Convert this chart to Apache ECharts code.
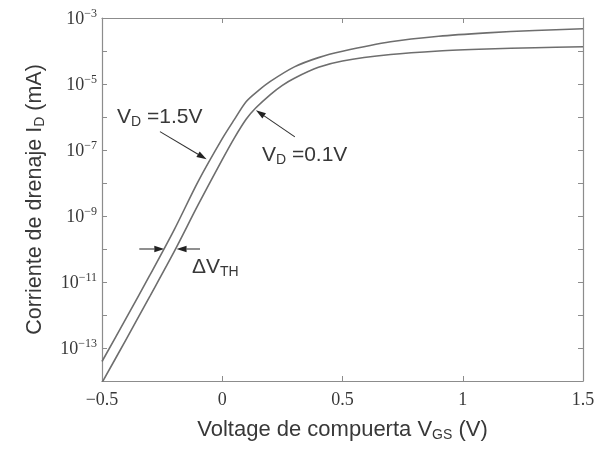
<!DOCTYPE html>
<html>
<head>
<meta charset="utf-8">
<script src="https://cdn.jsdelivr.net/npm/echarts@6/dist/echarts.min.js"></script>
<style>
html, body { margin: 0; padding: 0; background: #fff; }
#chart { width: 598px; height: 452px; }
</style>
</head>
<body>
<div id="chart"></div>
<script>
// Drain current I_D (mA) versus gate voltage V_GS (V) for two drain voltages
const vgsHigh = [-0.5, -0.4, -0.3, -0.2, -0.1, 0, 0.05, 0.1, 0.15, 0.2, 0.3, 0.4, 0.5, 0.7, 0.9, 1.1, 1.3, 1.5];
const idHigh  = [3.9e-14, 7.9e-13, 1.66e-11, 3.8e-10, 1.12e-8, 2.2e-7, 8.3e-7, 2.95e-6, 6.3e-6, 1.2e-5, 3.3e-5, 6.3e-5, 9.8e-5, 1.9e-4, 2.8e-4, 3.55e-4, 4.2e-4, 4.7e-4];

const vgsLow = [-0.5, -0.4, -0.3, -0.2, -0.1, 0, 0.05, 0.1, 0.14, 0.2, 0.25, 0.3, 0.4, 0.5, 0.7, 0.9, 1.1, 1.3, 1.5];
const idLow  = [8.9e-15, 1.8e-13, 3.8e-12, 8.3e-11, 2.2e-9, 5.1e-8, 2.3e-7, 8.7e-7, 1.9e-6, 4.8e-6, 9.1e-6, 1.5e-5, 3.2e-5, 5.0e-5, 7.8e-5, 1.0e-4, 1.15e-4, 1.26e-4, 1.35e-4];

// Axis ranges and labelled decades
const xRange = [-0.5, 1.5];
const xStep = 0.5;
const yRange = [1e-14, 1e-3];
const yLabelExponents = [-3, -5, -7, -9, -11, -13];

const SANS = 'Liberation Sans, Arial, sans-serif';
const SERIF = 'Liberation Serif, DejaVu Serif, serif';
const AXIS_COLOR = '#8c8c8c';
const TEXT_COLOR = '#383838';
const CURVE_COLOR = '#6e6e6e';

const pair = (xs, ys) => xs.map((x, i) => [x, ys[i]]);

function xLabel(v) {
  const r = Math.round(v * 10) / 10;
  return r < 0 ? '\u2212' + Math.abs(r) : String(r);
}
function yLabel(v) {
  const e = Math.round(Math.log10(v));
  if (!yLabelExponents.includes(e)) return '';
  return '{b|10}{s|' + (e < 0 ? '\u2212' : '') + Math.abs(e) + '}';
}

const chart = echarts.init(document.getElementById('chart'), null, { renderer: 'canvas' });

const boxAxis = {
  axisLine: { show: true, onZero: false, lineStyle: { color: AXIS_COLOR, width: 1.2 } },
  axisTick: { show: true, inside: true, length: 5, lineStyle: { color: AXIS_COLOR, width: 1 } },
  splitLine: { show: false },
  minorTick: { show: false }
};

const titleStyle = size => ({
  fontFamily: SANS, fontSize: size, color: TEXT_COLOR, lineHeight: 24,
  rich: { sub: { fontFamily: SANS, fontSize: 14, color: TEXT_COLOR, verticalAlign: 'bottom', lineHeight: 14 } }
});

chart.setOption({
  animation: false,
  backgroundColor: '#fff',
  grid: { left: 102, right: 15, top: 18, bottom: 71 },
  xAxis: [
    Object.assign({
      type: 'value', position: 'bottom', min: xRange[0], max: xRange[1], interval: xStep,
      axisLabel: { margin: 10, fontFamily: SERIF, fontSize: 18, color: TEXT_COLOR, formatter: xLabel },
      name: 'Voltage de compuerta V{sub|GS} (V)',
      nameLocation: 'middle', nameGap: 37,
      nameTextStyle: titleStyle(22)
    }, boxAxis),
    Object.assign({
      type: 'value', position: 'top', min: xRange[0], max: xRange[1], interval: xStep,
      axisLabel: { show: false }
    }, boxAxis)
  ],
  yAxis: [
    Object.assign({
      type: 'log', logBase: 10, position: 'left', min: yRange[0], max: yRange[1], interval: 1,
      axisLabel: {
        margin: 5, color: TEXT_COLOR, formatter: yLabel,
        rich: {
          b: { fontFamily: SERIF, fontSize: 18, color: TEXT_COLOR, lineHeight: 20, verticalAlign: 'bottom' },
          s: { fontFamily: SERIF, fontSize: 12, color: TEXT_COLOR, verticalAlign: 'top', lineHeight: 12 }
        }
      },
      name: 'Corriente de drenaje I{sub|D} (mA)',
      nameLocation: 'middle', nameGap: 55,
      nameTextStyle: titleStyle(21.5)
    }, boxAxis),
    Object.assign({
      type: 'log', logBase: 10, position: 'right', min: yRange[0], max: yRange[1], interval: 1,
      axisLabel: { show: false }
    }, boxAxis)
  ],
  series: [
    {
      name: 'V_D = 1.5 V', type: 'line', xAxisIndex: 0, yAxisIndex: 0,
      data: pair(vgsHigh, idHigh), showSymbol: false, smooth: 0.3, clip: true,
      lineStyle: { color: CURVE_COLOR, width: 1.6 }
    },
    {
      name: 'V_D = 0.1 V', type: 'line', xAxisIndex: 0, yAxisIndex: 0,
      data: pair(vgsLow, idLow), showSymbol: false, smooth: 0.3, clip: true,
      lineStyle: { color: CURVE_COLOR, width: 1.6 }
    }
  ]
});

// Annotations placed in data coordinates: [V_GS, I_D]
const arrows = [
  { from: [-0.259, 3.6e-7], to: [-0.065, 5.2e-8] },
  { from: [0.302, 2.5e-7], to: [0.14, 1.6e-6] },
  { from: [-0.345, 1e-10], to: [-0.241, 1e-10] },
  { from: [-0.0925, 1e-10], to: [-0.19, 1e-10] }
];
const labels = [
  { at: [-0.4376, 1e-6], text: 'V{s|D} =1.5V' },
  { at: [0.165, 7.1e-8], text: 'V{s|D} =0.1V' },
  { at: [-0.126, 2.8e-11], text: '\u0394V{s|TH}' }
];

const toPx = p => chart.convertToPixel({ gridIndex: 0 }, p);
const graphics = [];
arrows.forEach(a => {
  const p0 = toPx(a.from), p1 = toPx(a.to);
  const dx = p1[0] - p0[0], dy = p1[1] - p0[1];
  const len = Math.hypot(dx, dy);
  const ux = dx / len, uy = dy / len;
  const head = 10, half = 3.2;
  const bx = p1[0] - ux * head, by = p1[1] - uy * head;
  graphics.push({
    type: 'line', silent: true,
    shape: { x1: p0[0], y1: p0[1], x2: bx, y2: by },
    style: { stroke: '#333', lineWidth: 1.1 }
  });
  graphics.push({
    type: 'polygon', silent: true,
    shape: { points: [[p1[0], p1[1]], [bx - uy * half, by + ux * half], [bx + uy * half, by - ux * half]] },
    style: { fill: '#222' }
  });
});
labels.forEach(l => {
  const p = toPx(l.at);
  graphics.push({
    type: 'text', silent: true, x: p[0], y: p[1],
    style: {
      text: l.text, fontFamily: SANS, fontSize: 21, fill: TEXT_COLOR,
      verticalAlign: 'middle', align: 'left', lineHeight: 24,
      rich: { s: { fontFamily: SANS, fontSize: 14, fill: TEXT_COLOR, verticalAlign: 'bottom', lineHeight: 14 } }
    }
  });
});
chart.setOption({ graphic: graphics });
</script>
</body>
</html>
